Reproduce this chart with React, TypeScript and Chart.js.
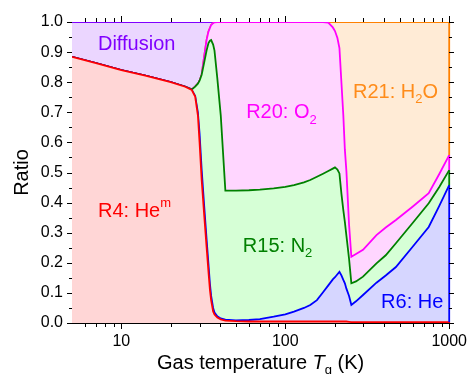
import React, { useEffect, useRef } from 'react';
import { Chart, registerables } from 'chart.js';

Chart.register(...registerables);

const FONT = "'Liberation Sans', Arial, Helvetica, sans-serif";

// Gas temperature grid (K)
const temperatures = [5, 7, 10, 14, 20, 24.5, 26.9, 28.2, 29.3, 30, 30.9, 32, 33.1, 34, 34.7, 35.3, 36.3, 37, 38.5, 40.4, 43.1, 50, 60, 70, 85, 100, 113, 130, 142, 156, 170, 183, 195, 201, 208, 214, 220, 226, 231, 236, 245, 253, 270, 298, 360, 410, 473, 600, 750, 870, 1000];

// Cumulative (stacked) upper boundary of each channel
const r4HemTop = [0.884, 0.863, 0.840, 0.822, 0.800, 0.785, 0.774, 0.752, 0.690, 0.600, 0.475, 0.360, 0.253, 0.170, 0.110, 0.075, 0.038, 0.028, 0.018, 0.012, 0.008, 0.006, 0.005, 0.005, 0.005, 0.005, 0.005, 0.005, 0.005, 0.005, 0.005, 0.005, 0.005, 0.005, 0.005, 0.005, 0.005, 0.005, 0.005, 0.005, 0.004, 0.003, 0.003, 0.003, 0.003, 0.003, 0.003, 0.003, 0.003, 0.003, 0.003];
const r6HeTop = [0.884, 0.863, 0.840, 0.822, 0.800, 0.785, 0.774, 0.754, 0.700, 0.630, 0.510, 0.390, 0.280, 0.195, 0.130, 0.090, 0.050, 0.035, 0.022, 0.015, 0.011, 0.009, 0.010, 0.013, 0.021, 0.029, 0.038, 0.050, 0.060, 0.076, 0.102, 0.125, 0.145, 0.152, 0.162, 0.170, 0.158, 0.143, 0.132, 0.114, 0.090, 0.060, 0.072, 0.093, 0.134, 0.158, 0.186, 0.254, 0.319, 0.389, 0.458];
const r15N2Top = [0.884, 0.863, 0.840, 0.822, 0.800, 0.785, 0.776, 0.785, 0.795, 0.805, 0.825, 0.865, 0.905, 0.930, 0.938, 0.940, 0.925, 0.905, 0.813, 0.690, 0.440, 0.440, 0.441, 0.443, 0.447, 0.452, 0.458, 0.467, 0.475, 0.486, 0.496, 0.505, 0.513, 0.517, 0.510, 0.497, 0.430, 0.375, 0.335, 0.290, 0.213, 0.132, 0.138, 0.154, 0.198, 0.225, 0.265, 0.333, 0.398, 0.452, 0.508];
const r20O2Top = [0.884, 0.863, 0.840, 0.822, 0.800, 0.785, 0.776, 0.785, 0.795, 0.805, 0.825, 0.885, 0.940, 0.968, 0.980, 0.990, 0.996, 0.999, 1.0, 1.0, 1.0, 1.0, 1.0, 1.0, 1.0, 1.0, 1.0, 1.0, 1.0, 1.0, 1.0, 0.998, 0.982, 0.970, 0.947, 0.913, 0.800, 0.690, 0.575, 0.505, 0.326, 0.220, 0.229, 0.243, 0.292, 0.317, 0.342, 0.387, 0.431, 0.495, 0.558];
const r21H2OTop = [0.884, 0.863, 0.840, 0.822, 0.800, 0.785, 0.776, 0.785, 0.795, 0.805, 0.825, 0.885, 0.940, 0.968, 0.980, 0.990, 0.996, 0.999, 1.0, 1.0, 1.0, 1.0, 1.0, 1.0, 1.0, 1.0, 1.0, 1.0, 1.0, 1.0, 1.0, 1.0, 1.0, 1.0, 1.0, 1.0, 1.0, 1.0, 1.0, 1.0, 1.0, 1.0, 1.0, 1.0, 1.0, 1.0, 1.0, 1.0, 1.0, 1.0, 1.0];
const diffusionTop = [1.0, 1.0, 1.0, 1.0, 1.0, 1.0, 1.0, 1.0, 1.0, 1.0, 1.0, 1.0, 1.0, 1.0, 1.0, 1.0, 1.0, 1.0, 1.0, 1.0, 1.0, 1.0, 1.0, 1.0, 1.0, 1.0, 1.0, 1.0, 1.0, 1.0, 1.0, 1.0, 1.0, 1.0, 1.0, 1.0, 1.0, 1.0, 1.0, 1.0, 1.0, 1.0, 1.0, 1.0, 1.0, 1.0, 1.0, 1.0, 1.0, 1.0, 1.0];

const xTickValues = [10, 100, 1000];
const yTickValues = [0, 0.1, 0.2, 0.3, 0.4, 0.5, 0.6, 0.7, 0.8, 0.9, 1.0];
const xMinorTicks = [6, 7, 8, 9, 20, 30, 40, 50, 60, 70, 80, 90, 200, 300, 400, 500, 600, 700, 800, 900];
const yMinorTicks = [0.05, 0.15, 0.25, 0.35, 0.45, 0.55, 0.65, 0.75, 0.85, 0.95];

type Part = { text: string; style?: 'sub' | 'sup' | 'italic' };

const series = [
  { name: 'R4: Hem', values: r4HemTop, line: '#ff0000', fill: 'rgb(255,214,214)' },
  { name: 'R6: He', values: r6HeTop, line: '#0000ff', fill: 'rgb(214,214,255)' },
  { name: 'R15: N2', values: r15N2Top, line: '#008000', fill: 'rgb(214,255,214)' },
  { name: 'R20: O2', values: r20O2Top, line: '#ff00ff', fill: 'rgb(255,214,255)' },
  { name: 'R21: H2O', values: r21H2OTop, line: '#ff8000', fill: 'rgb(255,235,214)' },
  { name: 'Diffusion', values: diffusionTop, line: '#8000ff', fill: 'rgb(235,214,255)' },
];

const regionLabels: { parts: Part[]; t: number; v: number; color: string }[] = [
  { parts: [{ text: 'Diffusion' }], t: 7.2, v: 0.907, color: '#8000ff' },
  { parts: [{ text: 'R20: O' }, { text: '2', style: 'sub' }], t: 57.7, v: 0.68, color: '#ff00ff' },
  { parts: [{ text: 'R21: H' }, { text: '2', style: 'sub' }, { text: 'O' }], t: 259, v: 0.749, color: '#ff8c1a' },
  { parts: [{ text: 'R4: He' }, { text: 'm', style: 'sup' }], t: 7.2, v: 0.353, color: '#ff0000' },
  { parts: [{ text: 'R15: N' }, { text: '2', style: 'sub' }], t: 55.1, v: 0.237, color: '#008000' },
  { parts: [{ text: 'R6: He' }], t: 384, v: 0.049, color: '#0000ff' },
];

const xTitle: Part[] = [{ text: 'Gas temperature ' }, { text: 'T', style: 'italic' }, { text: 'g', style: 'sub' }, { text: ' (K)' }];
const yTitle = 'Ratio';

function drawRich(ctx: CanvasRenderingContext2D, parts: Part[], x: number, y: number, size: number, color: string, align: 'left' | 'center') {
  const fontFor = (p: Part) => {
    const small = p.style === 'sub' || p.style === 'sup';
    const s = small ? Math.round(size * 0.66) : size;
    return `${p.style === 'italic' ? 'italic ' : ''}${s}px ${FONT}`;
  };
  const widths = parts.map((p) => {
    ctx.font = fontFor(p);
    return ctx.measureText(p.text).width;
  });
  const total = widths.reduce((a, b) => a + b, 0);
  let cx = align === 'center' ? x - total / 2 : x;
  ctx.fillStyle = color;
  ctx.textBaseline = 'alphabetic';
  ctx.textAlign = 'left';
  parts.forEach((p, i) => {
    ctx.font = fontFor(p);
    const dy = p.style === 'sub' ? size * 0.27 : p.style === 'sup' ? -size * 0.48 : 0;
    ctx.fillText(p.text, cx, y + dy);
    cx += widths[i];
  });
}

const decorPlugin = {
  id: 'decor',
  afterDatasetsDraw(chart: any) {
    const { ctx, scales } = chart;
    const x = scales.x.getPixelForValue(1000);
    let prev = 0;
    ctx.save();
    ctx.lineWidth = 1.8;
    series.forEach((s) => {
      const v = s.values[s.values.length - 1];
      if (v > prev) {
        ctx.strokeStyle = s.line;
        ctx.beginPath();
        ctx.moveTo(x, scales.y.getPixelForValue(prev));
        ctx.lineTo(x, scales.y.getPixelForValue(v));
        ctx.stroke();
      }
      prev = v;
    });
    ctx.restore();
  },
  afterDraw(chart: any) {
    const { ctx, chartArea, scales } = chart;
    const { left, right, top, bottom } = chartArea;
    ctx.save();
    ctx.fillStyle = '#000';
    const yTick = (v: number, len: number) => {
      const y = Math.round(scales.y.getPixelForValue(v));
      ctx.fillRect(Math.round(left) - len, y, len, 1);
      ctx.fillRect(Math.round(right), y, len, 1);
    };
    const xTick = (v: number, len: number) => {
      const x = Math.round(scales.x.getPixelForValue(v));
      ctx.fillRect(x, Math.round(bottom), 1, len);
      ctx.fillRect(x, Math.round(top) - len, 1, len);
    };
    yTickValues.forEach((v) => yTick(v, 5));
    yMinorTicks.forEach((v) => yTick(v, 3));
    xTickValues.forEach((v) => xTick(v, 6));
    xMinorTicks.forEach((v) => xTick(v, 4));

    regionLabels.forEach((l) => {
      drawRich(ctx, l.parts, scales.x.getPixelForValue(l.t), scales.y.getPixelForValue(l.v), 20, l.color, 'left');
    });

    drawRich(ctx, xTitle, (left + right) / 2, 369, 20, '#000', 'center');

    ctx.translate(28, (top + bottom) / 2);
    ctx.rotate(-Math.PI / 2);
    ctx.font = `20px ${FONT}`;
    ctx.fillStyle = '#000';
    ctx.textAlign = 'center';
    ctx.textBaseline = 'alphabetic';
    ctx.fillText(yTitle, 0, 0);
    ctx.restore();
  },
};

export default function App() {
  const ref = useRef<HTMLCanvasElement>(null);
  useEffect(() => {
    const canvas = ref.current;
    if (!canvas) return;
    const tickFont = { family: FONT, size: 16 };
    const chart = new Chart(canvas, {
      type: 'line',
      data: {
        datasets: series.map((s, i) => ({
          label: s.name,
          data: temperatures.map((t, k) => ({ x: t, y: s.values[k] })),
          borderColor: s.line,
          backgroundColor: s.fill,
          borderWidth: 1.8,
          pointRadius: 0,
          tension: 0,
          fill: i === 0 ? 'origin' : '-1',
        })),
      },
      options: {
        responsive: false,
        animation: false,
        layout: { padding: 0 },
        plugins: { legend: { display: false }, tooltip: { enabled: false } },
        scales: {
          x: {
            type: 'logarithmic',
            position: 'bottom',
            min: 5,
            max: 1000,
            grid: { display: false, drawTicks: false },
            border: { display: true, color: '#000', width: 1 },
            ticks: { font: tickFont, color: '#000', padding: 9, autoSkip: false, maxRotation: 0, callback: (v: any) => String(v) },
            afterBuildTicks: (s: any) => { s.ticks = xTickValues.map((v) => ({ value: v })); },
            afterFit: (s: any) => { s.height = 51; },
          },
          xTop: {
            type: 'logarithmic',
            position: 'top',
            min: 5,
            max: 1000,
            grid: { display: false, drawTicks: false },
            border: { display: true, color: '#000', width: 1 },
            ticks: { display: false },
            afterFit: (s: any) => { s.height = 22; },
          },
          y: {
            type: 'linear',
            position: 'left',
            min: 0,
            max: 1,
            grid: { display: false, drawTicks: false },
            border: { display: true, color: '#000', width: 1 },
            ticks: { font: tickFont, color: '#000', padding: 9, callback: (v: any) => Number(v).toFixed(1) },
            afterBuildTicks: (s: any) => { s.ticks = yTickValues.map((v) => ({ value: v })); },
            afterFit: (s: any) => { s.width = 72; },
          },
          yRight: {
            type: 'linear',
            position: 'right',
            min: 0,
            max: 1,
            grid: { display: false, drawTicks: false },
            border: { display: true, color: '#000', width: 1 },
            ticks: { display: false },
            afterFit: (s: any) => { s.width = 21; },
          },
        },
      } as any,
      plugins: [decorPlugin],
    });
    return () => chart.destroy();
  }, []);
  return (
    <div style={{ position: 'fixed', left: 0, top: 0, width: 476, height: 374, background: '#fff' }}>
      <canvas ref={ref} width={476} height={374} style={{ display: 'block', width: 476, height: 374 }} />
    </div>
  );
}
